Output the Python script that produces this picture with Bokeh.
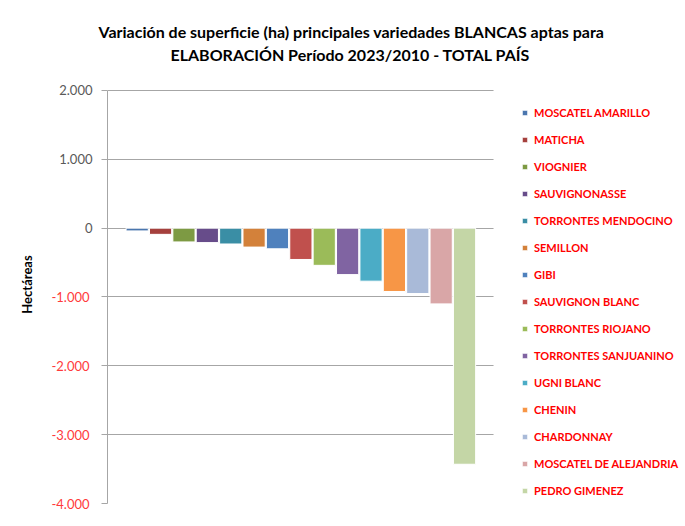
from bokeh.plotting import figure
from bokeh.models import (Range1d, FixedTicker, Legend, LegendItem, Title,
                          ColumnDataSource, LinearAxis, BoxAnnotation)
from bokeh.embed import file_html
from bokeh.resources import INLINE

title_line1 = "Variación de superficie (ha) principales variedades BLANCAS aptas para"
title_line2 = "ELABORACIÓN Período 2023/2010 - TOTAL PAÍS"
y_title = "Hectáreas"

varieties = ["MOSCATEL AMARILLO", "MATICHA", "VIOGNIER", "SAUVIGNONASSE",
             "TORRONTES MENDOCINO", "SEMILLON", "GIBI", "SAUVIGNON BLANC",
             "TORRONTES RIOJANO", "TORRONTES SANJUANINO", "UGNI BLANC", "CHENIN",
             "CHARDONNAY", "MOSCATEL DE ALEJANDRIA", "PEDRO GIMENEZ"]
values = [-40, -90, -200, -210, -230, -275, -300, -455, -540, -675, -770,
          -920, -950, -1100, -3430]
colors = ["#4A76AE", "#A5403D", "#7D9A43", "#674C8A", "#3A8EA5", "#D3813A",
          "#4F81BD", "#C0504D", "#9BBB59", "#8064A2", "#4BACC6", "#F79646",
          "#A9BAD8", "#D9A6A7", "#C4D6A6"]

y_ticks = [-4000, -3000, -2000, -1000, 0, 1000, 2000]
y_tick_labels = ["-4.000", "-3.000", "-2.000", "-1.000", "0", "1.000", "2.000"]

FONT = "Lato"

positions = list(range(len(varieties)))
src = ColumnDataSource(dict(x=positions, top=values, color=colors, name=varieties))

# plot area (bars + grid) ends at PLOT_END; the frame continues to the right
# so that the legend can sit inside it, and a little above the 2.000 line
PLOT_END = 15.24
p = figure(width=685, height=526, output_backend="svg", toolbar_location=None,
           x_range=Range1d(-1.27, 23.45), y_range=Range1d(-4000, 2363),
           min_border_left=107, min_border_right=0, min_border_top=65,
           min_border_bottom=23)
p.outline_line_color = None
p.background_fill_color = "white"

p.xaxis.visible = False
p.xgrid.visible = False
p.ygrid.grid_line_color = "#A6A6A6"
p.ygrid.ticker = FixedTicker(ticks=y_ticks)

# white panel hiding the grid to the right of the plot area
p.add_layout(BoxAnnotation(left=PLOT_END, fill_color="white", fill_alpha=1.0,
                           line_color=None, level="underlay"))

r = p.vbar(x="x", top="top", bottom=0, width=0.95, fill_color="color",
           line_color="white", line_width=1, source=src)

# inner axis: ticks, axis line and the non-negative labels (grey)
ax = p.yaxis[0]
ax.ticker = FixedTicker(ticks=y_ticks)
ax.bounds = (min(y_ticks), max(y_ticks))
ax.major_label_overrides = {t: (lab if t >= 0 else "") for t, lab in zip(y_ticks, y_tick_labels)}
ax.major_label_text_font = FONT
ax.major_label_text_font_size = "13px"
ax.major_label_text_color = "#595959"
ax.major_label_standoff = 9
ax.major_tick_out = 6
ax.major_tick_in = 0
ax.minor_tick_out = 0
ax.minor_tick_in = 0
ax.major_tick_line_color = "#A6A6A6"
ax.axis_line_color = "#A6A6A6"

# outer axis: negative labels (red), pulled back onto the same column
neg_ticks = [t for t in y_ticks if t < 0]
ax2 = LinearAxis(ticker=FixedTicker(ticks=neg_ticks), bounds=(min(y_ticks), max(y_ticks)))
ax2.major_label_overrides = {t: lab for t, lab in zip(y_ticks, y_tick_labels) if t < 0}
ax2.major_label_text_font = FONT
ax2.major_label_text_font_size = "13px"
ax2.major_label_text_color = "#FF3B3B"
ax2.major_label_standoff = -33
ax2.major_tick_out = 0
ax2.major_tick_in = 0
ax2.minor_tick_out = 0
ax2.minor_tick_in = 0
ax2.axis_line_color = None
ax2.major_tick_line_color = None
ax2.minor_tick_line_color = None
ax2.axis_label = y_title
ax2.axis_label_text_font = FONT
ax2.axis_label_text_font_style = "bold"
ax2.axis_label_text_font_size = "13px"
ax2.axis_label_text_color = "black"
ax2.axis_label_standoff = 13
p.add_layout(ax2, "left")

# two-line title, each line placed on its own
t2 = Title(text=title_line2, align="left", offset=63, standoff=4,
           text_font=FONT, text_font_style="bold", text_font_size="16px",
           text_color="black")
t1 = Title(text=title_line1, align="left", offset=-9, standoff=0,
           text_font=FONT, text_font_style="bold", text_font_size="16px",
           text_color="black")
p.add_layout(t2, "above")
p.add_layout(t1, "above")

items = [LegendItem(label=v, renderers=[r], index=i) for i, v in enumerate(varieties)]
legend = Legend(items=items, location=(414, 3), orientation="vertical",
                label_text_font=FONT, label_text_font_style="bold",
                label_text_font_size="11px", label_text_color="#FF0000",
                glyph_width=7, glyph_height=7, label_height=20, spacing=7,
                label_standoff=6, padding=3, margin=0,
                border_line_color=None, background_fill_alpha=0)
p.add_layout(legend, "center")

open("out.html", "w").write(file_html(p, INLINE))
